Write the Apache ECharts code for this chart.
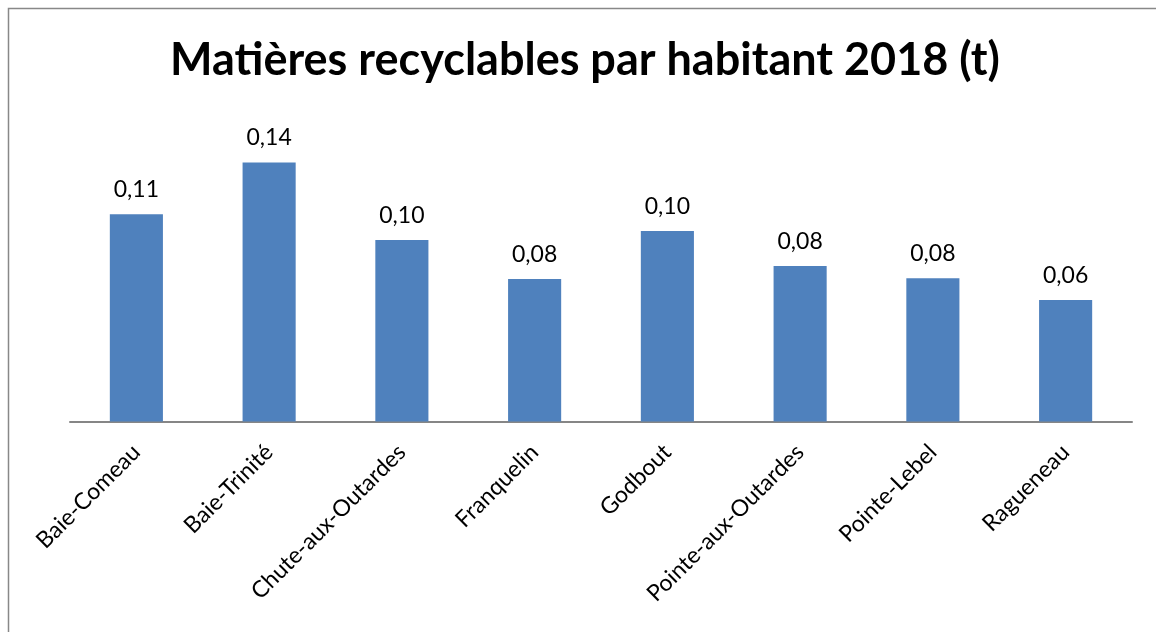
<!DOCTYPE html>
<html>
<head>
<meta charset="utf-8">
<script src="https://cdn.jsdelivr.net/npm/echarts@6/dist/echarts.min.js"></script>
<style>
html,body{margin:0;padding:0;background:#fff;}
#chart{width:1156px;height:632px;}
</style>
</head>
<body>
<div id="chart"></div>
<script>
const titleText = 'Matières recyclables par habitant 2018 (t)';
const categories = ['Baie-Comeau','Baie-Trinité','Chute-aux-Outardes','Franquelin','Godbout','Pointe-aux-Outardes','Pointe-Lebel','Ragueneau'];
const values = [0.110, 0.1375, 0.0963, 0.0756, 0.1011, 0.0825, 0.0760, 0.0645];

const chart = echarts.init(document.getElementById('chart'));
chart.setOption({
  backgroundColor: '#ffffff',
  animation: false,
  graphic: [{
    type: 'rect',
    shape: {x: 8.5, y: 8.5, width: 1200, height: 700},
    style: {fill: 'none', stroke: '#888888', lineWidth: 1.5},
    silent: true
  }],
  title: {
    text: titleText,
    left: 170,
    top: 38,
    padding: 0,
    textStyle: {fontFamily: 'Lato', fontWeight: 'bold', fontSize: 45, color: '#000'}
  },
  grid: {left: 70, right: 24, top: 120, bottom: 210.5, containLabel: false},
  xAxis: {
    type: 'category',
    data: categories,
    axisLine: {lineStyle: {color: '#868686', width: 2}},
    axisTick: {show: false},
    axisLabel: {
      interval: 0, rotate: 45, margin: 27,
      fontFamily: 'Lato', fontSize: 23, color: '#000'
    }
  },
  yAxis: {
    type: 'value', min: 0, max: 0.16,
    show: false,
    splitLine: {show: false}
  },
  series: [{
    type: 'bar',
    data: values,
    barWidth: '40%',
    itemStyle: {color: '#4F81BD'},
    label: {
      show: true, position: 'top', distance: 13,
      fontFamily: 'Lato', fontSize: 23, color: '#000',
      formatter: p => p.value.toFixed(2).replace('.', ',')
    }
  }]
});
</script>
</body>
</html>
